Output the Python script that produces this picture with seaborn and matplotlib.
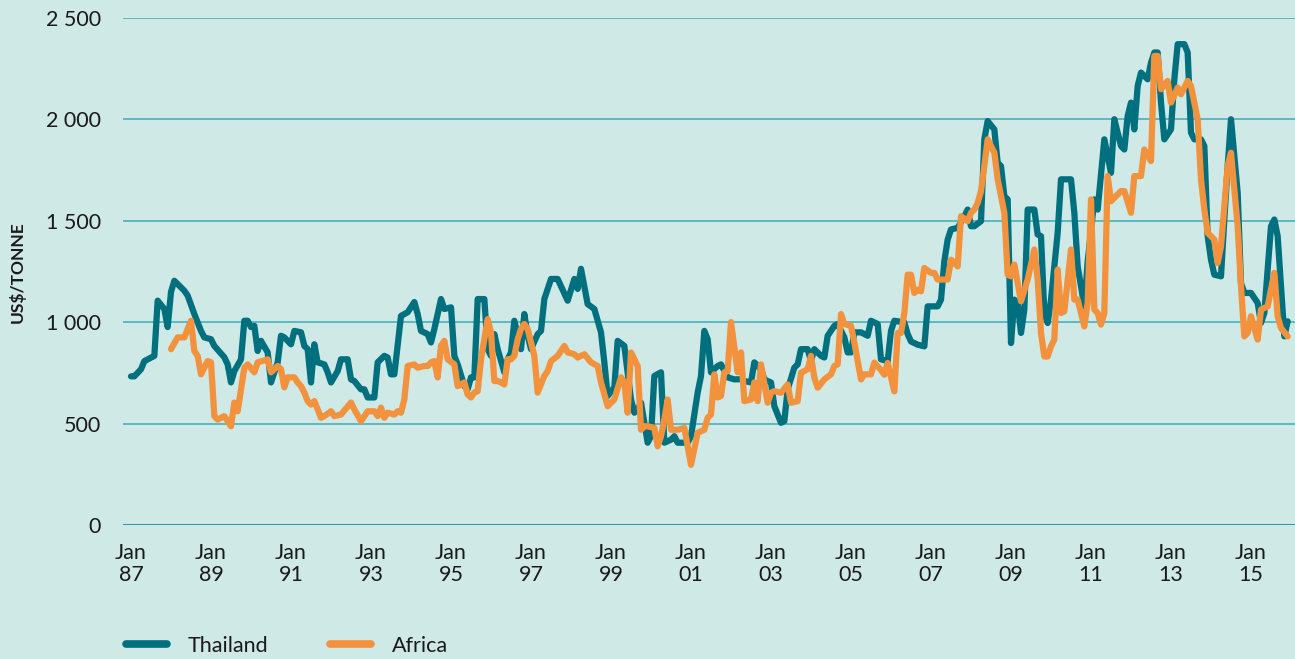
import matplotlib
matplotlib.use("Agg")
import matplotlib.pyplot as plt
import numpy as np
import pandas as pd
import seaborn as sns

# Monthly rice export prices, months counted from Jan 1987
thailand_month = [
    0, 1, 3, 4, 7, 8, 10, 11, 12, 13, 16, 17, 19, 21, 22, 24, 25, 28, 29, 30,
    31, 33, 34, 35, 36, 37, 38, 39, 41, 42, 44, 45, 46, 48, 49, 51, 52, 53, 54, 55,
    56, 58, 59, 60, 62, 63, 65, 66, 67, 69, 70, 71, 73, 74, 76, 77, 78, 79, 81, 83,
    85, 86, 87, 89, 90, 91, 93, 94, 96, 97, 98, 100, 101, 102, 103, 104, 106, 107, 108, 109,
    110, 112, 113, 114, 115, 117, 118, 119, 120, 122, 123, 124, 126, 128, 131, 133, 134, 135, 137, 139,
    141, 142, 143, 145, 146, 148, 149, 150, 151, 152, 153, 155, 156, 157, 159, 160, 162, 163, 164, 167,
    168, 170, 171, 172, 173, 174, 176, 177, 179, 181, 183, 184, 186, 187, 189, 190, 191, 192, 193, 195,
    196, 197, 199, 200, 201, 203, 204, 205, 207, 208, 209, 211, 212, 214, 215, 216, 217, 219, 221, 222,
    224, 225, 227, 228, 229, 232, 233, 234, 236, 238, 239, 242, 243, 244, 245, 246, 248, 250, 251, 252,
    253, 255, 256, 257, 259, 260, 261, 262, 263, 264, 265, 266, 267, 268, 269, 271, 272, 273, 274, 275,
    276, 278, 279, 282, 283, 284, 286, 287, 288, 289, 290, 292, 294, 295, 297, 298, 299, 300, 301, 302,
    303, 305, 306, 307, 308, 309, 310, 312, 313, 314, 316, 317, 318, 319, 321, 322, 323, 324, 325, 327,
    328, 329, 330, 332, 333, 334, 336, 338, 339, 340, 341, 342, 343, 344, 346, 347,
]
thailand_price = [
    734, 734, 769, 809, 835, 1107, 1066, 977, 1150, 1205, 1156, 1132, 1041, 958, 926, 917, 884, 828, 793, 704,
    760, 818, 1008, 1008, 977, 983, 859, 909, 852, 704, 803, 934, 926, 892, 958, 951, 884, 868, 704, 892,
    803, 793, 754, 704, 760, 818, 818, 719, 711, 670, 670, 630, 630, 803, 835, 827, 744, 744, 1032, 1050,
    1100, 1041, 958, 942, 901, 967, 1115, 1066, 1074, 835, 793, 686, 670, 729, 729, 1115, 1115, 868, 835, 942,
    868, 754, 818, 852, 1008, 868, 1041, 934, 868, 942, 958, 1115, 1214, 1214, 1107, 1214, 1165, 1264, 1090, 1066,
    951, 803, 637, 680, 909, 884, 754, 620, 555, 571, 605, 407, 439, 736, 754, 407, 422, 439, 407, 407,
    439, 654, 736, 958, 917, 754, 785, 793, 729, 719, 720, 711, 704, 803, 769, 719, 711, 704, 587, 505,
    513, 670, 777, 793, 868, 868, 809, 868, 835, 827, 934, 983, 992, 926, 852, 852, 951, 951, 934, 1008,
    992, 818, 809, 958, 1008, 1000, 942, 906, 890, 882, 1079, 1079, 1112, 1301, 1408, 1458, 1466, 1523, 1556, 1474,
    1474, 1499, 1902, 1992, 1951, 1787, 1770, 1622, 1606, 898, 1112, 1096, 948, 1063, 1556, 1556, 1433, 1425, 1046, 997,
    1112, 1441, 1705, 1705, 1540, 1277, 1079, 1300, 1450, 1606, 1556, 1902, 1737, 2001, 1869, 1852, 2017, 2083, 1951, 2165,
    2231, 2198, 2280, 2330, 2330, 2083, 1902, 1951, 2198, 2371, 2371, 2330, 1935, 1902, 1902, 1869, 1425, 1309, 1235, 1227,
    1507, 1770, 2001, 1639, 1194, 1145, 1145, 1096, 997, 1046, 1260, 1474, 1507, 1425, 931, 1005,
]

africa_month = [
    12, 14, 16, 18, 19, 20, 21, 23, 24, 25, 26, 28, 30, 31, 32, 34, 35, 37, 38, 41,
    42, 44, 45, 46, 47, 49, 50, 51, 52, 53, 54, 55, 57, 58, 60, 61, 63, 66, 67, 69,
    71, 73, 74, 75, 76, 77, 79, 80, 81, 82, 83, 85, 86, 88, 89, 90, 91, 92, 93, 94,
    95, 97, 98, 99, 100, 101, 102, 103, 104, 105, 107, 108, 109, 110, 111, 112, 113, 114, 115, 116,
    117, 118, 119, 121, 122, 124, 125, 126, 128, 130, 131, 133, 134, 136, 138, 140, 141, 143, 145, 147,
    148, 149, 150, 152, 153, 154, 155, 157, 158, 159, 160, 161, 162, 164, 166, 168, 170, 172, 173, 174,
    175, 176, 177, 178, 179, 180, 182, 183, 184, 186, 187, 188, 189, 191, 192, 193, 195, 197, 198, 200,
    201, 203, 204, 205, 206, 208, 210, 211, 212, 213, 214, 216, 217, 219, 220, 222, 223, 225, 226, 227,
    229, 230, 231, 232, 233, 234, 235, 236, 237, 238, 240, 241, 242, 245, 246, 247, 248, 249, 251, 252,
    253, 254, 255, 256, 257, 259, 260, 262, 263, 264, 265, 267, 269, 271, 272, 273, 274, 275, 276, 277,
    278, 279, 280, 282, 283, 284, 285, 286, 287, 288, 289, 290, 291, 292, 293, 294, 297, 298, 300, 301,
    303, 304, 306, 307, 308, 309, 311, 312, 314, 315, 317, 318, 320, 321, 322, 323, 325, 326, 327, 329,
    330, 332, 333, 334, 335, 336, 338, 339, 341, 343, 344, 345, 347,
]
africa_price = [
    868, 926, 926, 1008, 859, 835, 744, 809, 803, 538, 521, 538, 488, 605, 562, 777, 793, 754, 803, 818,
    754, 785, 769, 680, 729, 729, 704, 686, 654, 612, 595, 612, 530, 538, 562, 538, 546, 605, 571, 513,
    562, 562, 538, 580, 530, 555, 546, 562, 555, 620, 785, 793, 777, 785, 785, 803, 809, 729, 884, 909,
    818, 793, 686, 694, 704, 645, 630, 654, 661, 818, 1016, 951, 711, 711, 704, 694, 818, 818, 835, 917,
    967, 992, 967, 835, 654, 736, 760, 809, 835, 884, 852, 843, 827, 843, 803, 785, 704, 587, 620, 729,
    704, 555, 852, 785, 471, 488, 488, 480, 389, 439, 521, 620, 471, 471, 480, 298, 456, 471, 530, 546,
    744, 630, 637, 754, 760, 1001, 754, 852, 612, 620, 704, 612, 793, 604, 653, 661, 653, 694, 604, 612,
    752, 769, 835, 727, 678, 719, 744, 785, 793, 1041, 992, 983, 901, 719, 744, 744, 802, 765, 742, 800,
    660, 948, 948, 1046, 1235, 1235, 1145, 1161, 1153, 1268, 1244, 1244, 1211, 1211, 1309, 1293, 1276, 1523, 1499, 1540,
    1556, 1589, 1647, 1770, 1902, 1836, 1705, 1540, 1235, 1227, 1285, 1104, 1211, 1359, 1211, 948, 832, 832, 882, 915,
    1260, 1046, 1055, 1359, 1112, 1112, 1046, 980, 1096, 1606, 1063, 1046, 989, 1046, 1721, 1597, 1647, 1647, 1540, 1721,
    1721, 1852, 1795, 2313, 2313, 2149, 2190, 2083, 2157, 2124, 2190, 2165, 2001, 1705, 1556, 1441, 1408, 1293, 1375, 1770,
    1836, 1474, 1178, 931, 948, 1030, 915, 1063, 1079, 1244, 1030, 972, 931,
]

tick_years = ["87", "89", "91", "93", "95", "97", "99", "01", "03", "05", "07", "09", "11", "13", "15"]
series_names = ["Thailand", "Africa"]

BG = "#cfe9e7"
TEAL = "#00707f"
ORANGE = "#f3923d"
GRID = "#5db7bf"
BASE = "#2f9ca7"
TEXT = "#1a1a1a"
FS = 15.5

df = pd.concat([
    pd.DataFrame({"month": thailand_month, "price": thailand_price, "series": series_names[0]}),
    pd.DataFrame({"month": africa_month, "price": africa_price, "series": series_names[1]}),
], ignore_index=True)

sns.set_theme(style="white")
plt.rcParams["font.family"] = ["Lato", "DejaVu Sans"]

W, H = 1295, 659
fig = plt.figure(figsize=(W / 100, H / 100), dpi=100, facecolor=BG)
ax = fig.add_axes([123 / W, 1 - 525.3 / H, 1 - 123 / W, (525.3 - 18) / H])
ax.set_facecolor(BG)

sns.lineplot(
    data=df, x="month", y="price", hue="series", hue_order=series_names,
    palette={"Thailand": TEAL, "Africa": ORANGE}, linewidth=4.5,
    estimator=None, sort=True, ax=ax, legend=False,
)
for ln in ax.lines:
    ln.set_solid_joinstyle("round")
    ln.set_solid_capstyle("round")
    ln.set_clip_on(False)

ax.set_ylim(0, 2500)
ax.set_xlim(-2.4, 349.2)
ax.set_yticks([0, 500, 1000, 1500, 2000, 2500])
ax.set_yticklabels(["0", "500", "1 000", "1 500", "2 000", "2 500"])
ax.set_xticks(np.arange(len(tick_years)) * 24)
ax.set_xticklabels([f"Jan\n{y}" for y in tick_years], linespacing=1.1)

for v in [500, 1000, 1500, 2000, 2500]:
    ax.axhline(v, color=GRID, lw=1.4, zorder=0)
ax.axhline(0, color=BASE, lw=2.2, zorder=0)

for s in ax.spines.values():
    s.set_visible(False)
ax.tick_params(axis="both", length=0, labelsize=FS, colors=TEXT)
ax.tick_params(axis="y", pad=16)
ax.tick_params(axis="x", pad=13)

ax.set_xlabel("")
ax.set_ylabel("US$/TONNE", fontsize=12.5, fontweight="bold", color=TEXT,
              family=["Liberation Sans Narrow", "Lato", "DejaVu Sans"])
ax.yaxis.set_label_coords(-97 / (W - 123), 0.5)

handles = [
    plt.Line2D([0], [0], color=TEAL, lw=5.5, solid_capstyle="round"),
    plt.Line2D([0], [0], color=ORANGE, lw=5.5, solid_capstyle="round"),
]
fig.legend(
    handles, series_names, loc="center left",
    bbox_to_anchor=(126 / W, 1 - 646 / H), ncol=2, frameon=False,
    fontsize=FS, handlelength=1.9, handletextpad=0.95, columnspacing=2.9,
    borderpad=0, borderaxespad=0, labelcolor=TEXT,
)

fig.savefig("out.png", dpi=100, facecolor=BG)
